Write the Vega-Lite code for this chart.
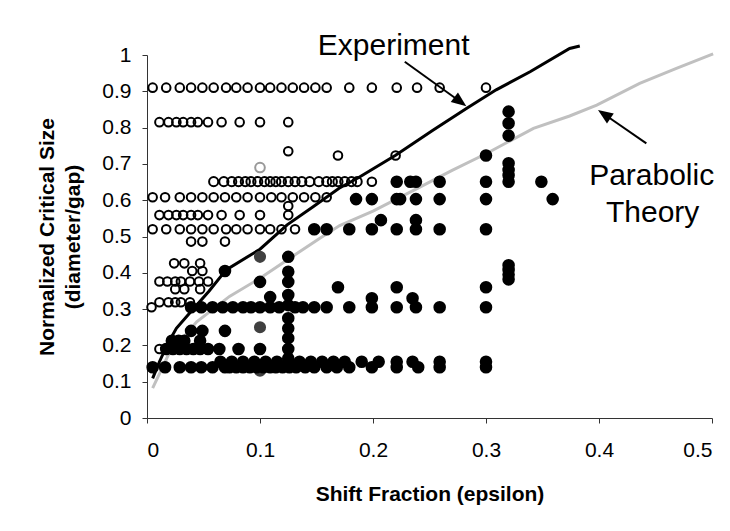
{
  "$schema": "https://vega.github.io/schema/vega-lite/v6.json",
  "autosize": "none",
  "width": 565,
  "height": 363,
  "padding": {"left": 147, "top": 55, "right": 18, "bottom": 113},
  "background": "white",
  "config": {
    "font": "Liberation Sans",
    "view": {"stroke": null},
    "axis": {
      "grid": false,
      "domainColor": "#333",
      "tickColor": "#333",
      "domainWidth": 1,
      "tickWidth": 1,
      "tickSize": 5,
      "labelOverlap": false,
      "labelFont": "Liberation Sans",
      "labelFontSize": 21,
      "labelColor": "#000",
      "titleFont": "Liberation Sans",
      "titleFontSize": 21,
      "titleFontWeight": "bold",
      "titleColor": "#000"
    }
  },
  "datasets": {
    "points": [
      {"eps":0.005,"size":0.91,"kind":"open"},{"eps":0.017,"size":0.91,"kind":"open"},{"eps":0.029,"size":0.91,"kind":"open"},{"eps":0.039,"size":0.91,"kind":"open"},{"eps":0.049,"size":0.91,"kind":"open"},{"eps":0.059,"size":0.91,"kind":"open"},{"eps":0.07,"size":0.91,"kind":"open"},{"eps":0.079,"size":0.91,"kind":"open"},{"eps":0.089,"size":0.91,"kind":"open"},{"eps":0.1,"size":0.91,"kind":"open"},{"eps":0.109,"size":0.91,"kind":"open"},{"eps":0.119,"size":0.91,"kind":"open"},{"eps":0.129,"size":0.91,"kind":"open"},{"eps":0.139,"size":0.91,"kind":"open"},{"eps":0.149,"size":0.91,"kind":"open"},{"eps":0.159,"size":0.91,"kind":"open"},{"eps":0.179,"size":0.91,"kind":"open"},{"eps":0.199,"size":0.91,"kind":"open"},{"eps":0.221,"size":0.91,"kind":"open"},{"eps":0.239,"size":0.91,"kind":"open"},{"eps":0.259,"size":0.91,"kind":"open"},{"eps":0.3,"size":0.91,"kind":"open"},
      {"eps":0.011,"size":0.815,"kind":"open"},{"eps":0.019,"size":0.815,"kind":"open"},{"eps":0.026,"size":0.815,"kind":"open"},{"eps":0.032,"size":0.815,"kind":"open"},{"eps":0.039,"size":0.815,"kind":"open"},{"eps":0.045,"size":0.815,"kind":"open"},{"eps":0.054,"size":0.815,"kind":"open"},{"eps":0.066,"size":0.815,"kind":"open"},{"eps":0.082,"size":0.815,"kind":"open"},{"eps":0.1,"size":0.815,"kind":"open"},{"eps":0.125,"size":0.815,"kind":"open"},
      {"eps":0.125,"size":0.735,"kind":"open"},{"eps":0.169,"size":0.723,"kind":"open"},{"eps":0.22,"size":0.723,"kind":"open"},
      {"eps":0.059,"size":0.651,"kind":"open_big"},{"eps":0.068,"size":0.651,"kind":"open_big"},{"eps":0.075,"size":0.651,"kind":"open_big"},{"eps":0.081,"size":0.651,"kind":"open_big"},{"eps":0.087,"size":0.651,"kind":"open_big"},{"eps":0.092,"size":0.651,"kind":"open_big"},{"eps":0.098,"size":0.651,"kind":"open_big"},{"eps":0.104,"size":0.651,"kind":"open_big"},{"eps":0.109,"size":0.651,"kind":"open_big"},{"eps":0.114,"size":0.651,"kind":"open_big"},{"eps":0.119,"size":0.651,"kind":"open_big"},{"eps":0.125,"size":0.651,"kind":"open_big"},{"eps":0.131,"size":0.651,"kind":"open_big"},{"eps":0.137,"size":0.651,"kind":"open_big"},{"eps":0.144,"size":0.651,"kind":"open_big"},{"eps":0.152,"size":0.651,"kind":"open_big"},{"eps":0.159,"size":0.651,"kind":"open_big"},{"eps":0.164,"size":0.651,"kind":"open_big"},{"eps":0.169,"size":0.651,"kind":"open_big"},{"eps":0.175,"size":0.651,"kind":"open_big"},{"eps":0.181,"size":0.651,"kind":"open_big"},{"eps":0.186,"size":0.651,"kind":"open_big"},{"eps":0.199,"size":0.651,"kind":"open"},
      {"eps":0.005,"size":0.608,"kind":"open"},{"eps":0.016,"size":0.608,"kind":"open"},{"eps":0.029,"size":0.608,"kind":"open"},{"eps":0.039,"size":0.608,"kind":"open"},{"eps":0.049,"size":0.608,"kind":"open"},{"eps":0.059,"size":0.608,"kind":"open"},{"eps":0.069,"size":0.608,"kind":"open"},{"eps":0.079,"size":0.608,"kind":"open"},{"eps":0.089,"size":0.608,"kind":"open"},{"eps":0.1,"size":0.608,"kind":"open"},{"eps":0.11,"size":0.608,"kind":"open"},{"eps":0.119,"size":0.608,"kind":"open"},{"eps":0.129,"size":0.608,"kind":"open"},{"eps":0.139,"size":0.608,"kind":"open"},{"eps":0.149,"size":0.608,"kind":"open"},{"eps":0.159,"size":0.608,"kind":"open"},
      {"eps":0.125,"size":0.584,"kind":"open"},
      {"eps":0.011,"size":0.559,"kind":"open"},{"eps":0.019,"size":0.559,"kind":"open"},{"eps":0.026,"size":0.559,"kind":"open"},{"eps":0.032,"size":0.559,"kind":"open"},{"eps":0.039,"size":0.559,"kind":"open"},{"eps":0.045,"size":0.559,"kind":"open"},{"eps":0.054,"size":0.559,"kind":"open"},{"eps":0.066,"size":0.559,"kind":"open"},{"eps":0.082,"size":0.559,"kind":"open"},{"eps":0.1,"size":0.559,"kind":"open"},{"eps":0.125,"size":0.559,"kind":"open"},
      {"eps":0.005,"size":0.52,"kind":"open"},{"eps":0.017,"size":0.52,"kind":"open"},{"eps":0.029,"size":0.52,"kind":"open"},{"eps":0.039,"size":0.52,"kind":"open"},{"eps":0.049,"size":0.52,"kind":"open"},{"eps":0.059,"size":0.52,"kind":"open"},{"eps":0.07,"size":0.52,"kind":"open"},{"eps":0.079,"size":0.52,"kind":"open"},{"eps":0.089,"size":0.52,"kind":"open"},{"eps":0.1,"size":0.52,"kind":"open"},{"eps":0.109,"size":0.52,"kind":"open"},{"eps":0.119,"size":0.52,"kind":"open"},{"eps":0.131,"size":0.52,"kind":"open"},
      {"eps":0.039,"size":0.486,"kind":"open"},{"eps":0.049,"size":0.486,"kind":"open"},{"eps":0.069,"size":0.486,"kind":"open"},
      {"eps":0.024,"size":0.426,"kind":"open"},{"eps":0.033,"size":0.426,"kind":"open"},{"eps":0.047,"size":0.426,"kind":"open"},
      {"eps":0.04,"size":0.405,"kind":"open"},{"eps":0.049,"size":0.405,"kind":"open"},
      {"eps":0.011,"size":0.376,"kind":"open"},{"eps":0.018,"size":0.376,"kind":"open"},{"eps":0.025,"size":0.376,"kind":"open"},{"eps":0.03,"size":0.376,"kind":"open"},{"eps":0.038,"size":0.376,"kind":"open"},{"eps":0.046,"size":0.376,"kind":"open"},{"eps":0.054,"size":0.376,"kind":"open"},
      {"eps":0.025,"size":0.355,"kind":"open"},{"eps":0.033,"size":0.355,"kind":"open"},{"eps":0.047,"size":0.355,"kind":"open"},
      {"eps":0.011,"size":0.319,"kind":"open"},{"eps":0.019,"size":0.319,"kind":"open"},{"eps":0.025,"size":0.319,"kind":"open"},{"eps":0.03,"size":0.319,"kind":"open"},{"eps":0.038,"size":0.319,"kind":"open"},
      {"eps":0.004,"size":0.305,"kind":"open"},{"eps":0.011,"size":0.19,"kind":"open"},
      {"eps":0.1,"size":0.69,"kind":"gray_open"},
      {"eps":0.1,"size":0.444,"kind":"gray_filled"},{"eps":0.1,"size":0.25,"kind":"gray_filled"},{"eps":0.1,"size":0.13,"kind":"gray_filled"},
      {"eps":0.065,"size":0.155,"kind":"filled"},{"eps":0.075,"size":0.155,"kind":"filled"},{"eps":0.085,"size":0.155,"kind":"filled"},{"eps":0.095,"size":0.155,"kind":"filled"},{"eps":0.105,"size":0.155,"kind":"filled"},{"eps":0.115,"size":0.155,"kind":"filled"},{"eps":0.125,"size":0.155,"kind":"filled"},{"eps":0.135,"size":0.155,"kind":"filled"},{"eps":0.145,"size":0.155,"kind":"filled"},{"eps":0.155,"size":0.155,"kind":"filled"},{"eps":0.165,"size":0.155,"kind":"filled"},{"eps":0.175,"size":0.155,"kind":"filled"},{"eps":0.19,"size":0.155,"kind":"filled"},{"eps":0.205,"size":0.155,"kind":"filled"},{"eps":0.221,"size":0.155,"kind":"filled"},{"eps":0.235,"size":0.155,"kind":"filled"},{"eps":0.259,"size":0.155,"kind":"filled"},{"eps":0.3,"size":0.155,"kind":"filled"},
      {"eps":0.005,"size":0.14,"kind":"filled"},{"eps":0.016,"size":0.14,"kind":"filled"},{"eps":0.029,"size":0.14,"kind":"filled"},{"eps":0.039,"size":0.14,"kind":"filled"},{"eps":0.048,"size":0.14,"kind":"filled"},{"eps":0.058,"size":0.14,"kind":"filled"},{"eps":0.069,"size":0.14,"kind":"filled"},{"eps":0.073,"size":0.14,"kind":"filled"},{"eps":0.079,"size":0.14,"kind":"filled"},{"eps":0.085,"size":0.14,"kind":"filled"},{"eps":0.091,"size":0.14,"kind":"filled"},{"eps":0.097,"size":0.14,"kind":"filled"},{"eps":0.103,"size":0.14,"kind":"filled"},{"eps":0.109,"size":0.14,"kind":"filled"},{"eps":0.114,"size":0.14,"kind":"filled"},{"eps":0.12,"size":0.14,"kind":"filled"},{"eps":0.126,"size":0.14,"kind":"filled"},{"eps":0.132,"size":0.14,"kind":"filled"},{"eps":0.14,"size":0.14,"kind":"filled"},{"eps":0.148,"size":0.14,"kind":"filled"},{"eps":0.159,"size":0.14,"kind":"filled"},{"eps":0.168,"size":0.14,"kind":"filled"},{"eps":0.179,"size":0.14,"kind":"filled"},{"eps":0.199,"size":0.14,"kind":"filled"},{"eps":0.221,"size":0.14,"kind":"filled"},{"eps":0.24,"size":0.14,"kind":"filled"},{"eps":0.259,"size":0.14,"kind":"filled"},{"eps":0.3,"size":0.14,"kind":"filled"},
      {"eps":0.125,"size":0.164,"kind":"filled"},{"eps":0.125,"size":0.19,"kind":"filled"},{"eps":0.125,"size":0.22,"kind":"filled"},{"eps":0.125,"size":0.247,"kind":"filled"},{"eps":0.125,"size":0.275,"kind":"filled"},{"eps":0.125,"size":0.311,"kind":"filled"},{"eps":0.125,"size":0.339,"kind":"filled"},{"eps":0.125,"size":0.375,"kind":"filled"},{"eps":0.125,"size":0.403,"kind":"filled"},{"eps":0.125,"size":0.444,"kind":"filled"},
      {"eps":0.1,"size":0.19,"kind":"filled"},{"eps":0.1,"size":0.375,"kind":"filled"},
      {"eps":0.017,"size":0.19,"kind":"filled"},{"eps":0.023,"size":0.19,"kind":"filled"},{"eps":0.029,"size":0.19,"kind":"filled"},{"eps":0.035,"size":0.19,"kind":"filled"},{"eps":0.041,"size":0.19,"kind":"filled"},{"eps":0.047,"size":0.19,"kind":"filled"},{"eps":0.054,"size":0.19,"kind":"filled"},{"eps":0.064,"size":0.19,"kind":"filled"},{"eps":0.081,"size":0.19,"kind":"filled"},
      {"eps":0.022,"size":0.213,"kind":"filled"},{"eps":0.028,"size":0.213,"kind":"filled"},{"eps":0.033,"size":0.213,"kind":"filled"},{"eps":0.047,"size":0.213,"kind":"filled"},
      {"eps":0.039,"size":0.24,"kind":"filled"},{"eps":0.049,"size":0.24,"kind":"filled"},{"eps":0.069,"size":0.24,"kind":"filled"},
      {"eps":0.069,"size":0.405,"kind":"filled"},{"eps":0.109,"size":0.333,"kind":"filled"},
      {"eps":0.039,"size":0.305,"kind":"filled"},{"eps":0.048,"size":0.305,"kind":"filled"},{"eps":0.058,"size":0.305,"kind":"filled"},{"eps":0.067,"size":0.305,"kind":"filled"},{"eps":0.076,"size":0.305,"kind":"filled"},{"eps":0.085,"size":0.305,"kind":"filled"},{"eps":0.092,"size":0.305,"kind":"filled"},{"eps":0.1,"size":0.305,"kind":"filled"},{"eps":0.109,"size":0.305,"kind":"filled"},{"eps":0.117,"size":0.305,"kind":"filled"},{"eps":0.131,"size":0.305,"kind":"filled"},{"eps":0.138,"size":0.305,"kind":"filled"},{"eps":0.148,"size":0.305,"kind":"filled"},{"eps":0.159,"size":0.305,"kind":"filled"},{"eps":0.179,"size":0.305,"kind":"filled"},{"eps":0.199,"size":0.305,"kind":"filled"},{"eps":0.221,"size":0.305,"kind":"filled"},{"eps":0.238,"size":0.305,"kind":"filled"},{"eps":0.259,"size":0.305,"kind":"filled"},{"eps":0.3,"size":0.305,"kind":"filled"},
      {"eps":0.199,"size":0.33,"kind":"filled"},{"eps":0.235,"size":0.33,"kind":"filled"},
      {"eps":0.169,"size":0.36,"kind":"filled"},{"eps":0.221,"size":0.36,"kind":"filled"},{"eps":0.3,"size":0.36,"kind":"filled"},
      {"eps":0.32,"size":0.382,"kind":"filled"},{"eps":0.32,"size":0.395,"kind":"filled"},{"eps":0.32,"size":0.408,"kind":"filled"},{"eps":0.32,"size":0.421,"kind":"filled"},{"eps":0.32,"size":0.651,"kind":"filled"},{"eps":0.32,"size":0.669,"kind":"filled"},{"eps":0.32,"size":0.683,"kind":"filled"},{"eps":0.32,"size":0.702,"kind":"filled"},{"eps":0.32,"size":0.778,"kind":"filled"},{"eps":0.32,"size":0.812,"kind":"filled"},{"eps":0.32,"size":0.844,"kind":"filled"},
      {"eps":0.148,"size":0.52,"kind":"filled"},{"eps":0.159,"size":0.52,"kind":"filled"},{"eps":0.179,"size":0.52,"kind":"filled"},{"eps":0.199,"size":0.52,"kind":"filled"},{"eps":0.221,"size":0.52,"kind":"filled"},{"eps":0.238,"size":0.52,"kind":"filled"},{"eps":0.259,"size":0.52,"kind":"filled"},{"eps":0.3,"size":0.52,"kind":"filled"},
      {"eps":0.207,"size":0.545,"kind":"filled"},{"eps":0.238,"size":0.545,"kind":"filled"},
      {"eps":0.185,"size":0.603,"kind":"filled"},{"eps":0.199,"size":0.603,"kind":"filled"},{"eps":0.221,"size":0.603,"kind":"filled"},{"eps":0.224,"size":0.603,"kind":"filled"},{"eps":0.238,"size":0.603,"kind":"filled"},{"eps":0.259,"size":0.603,"kind":"filled"},{"eps":0.3,"size":0.603,"kind":"filled"},{"eps":0.359,"size":0.603,"kind":"filled"},
      {"eps":0.221,"size":0.651,"kind":"filled"},{"eps":0.233,"size":0.651,"kind":"filled"},{"eps":0.238,"size":0.651,"kind":"filled"},{"eps":0.259,"size":0.651,"kind":"filled"},{"eps":0.3,"size":0.651,"kind":"filled"},{"eps":0.349,"size":0.651,"kind":"filled"},
      {"eps":0.3,"size":0.723,"kind":"filled"}
    ],
    "curves": [
      {"eps":0.005,"size":0.109,"curve":"Experiment"},{"eps":0.011,"size":0.155,"curve":"Experiment"},{"eps":0.0186,"size":0.206,"curve":"Experiment"},{"eps":0.026,"size":0.247,"curve":"Experiment"},{"eps":0.038,"size":0.29,"curve":"Experiment"},{"eps":0.055,"size":0.35,"curve":"Experiment"},{"eps":0.07,"size":0.408,"curve":"Experiment"},{"eps":0.1,"size":0.465,"curve":"Experiment"},{"eps":0.124,"size":0.532,"curve":"Experiment"},{"eps":0.147,"size":0.582,"curve":"Experiment"},{"eps":0.17,"size":0.633,"curve":"Experiment"},{"eps":0.187,"size":0.662,"curve":"Experiment"},{"eps":0.22,"size":0.724,"curve":"Experiment"},{"eps":0.253,"size":0.793,"curve":"Experiment"},{"eps":0.283,"size":0.853,"curve":"Experiment"},{"eps":0.309,"size":0.904,"curve":"Experiment"},{"eps":0.339,"size":0.954,"curve":"Experiment"},{"eps":0.374,"size":1.018,"curve":"Experiment"},{"eps":0.383,"size":1.025,"curve":"Experiment"},
      {"eps":0.005,"size":0.082,"curve":"Parabolic Theory"},{"eps":0.0186,"size":0.172,"curve":"Parabolic Theory"},{"eps":0.044,"size":0.265,"curve":"Parabolic Theory"},{"eps":0.073,"size":0.335,"curve":"Parabolic Theory"},{"eps":0.1,"size":0.385,"curve":"Parabolic Theory"},{"eps":0.132,"size":0.452,"curve":"Parabolic Theory"},{"eps":0.153,"size":0.495,"curve":"Parabolic Theory"},{"eps":0.1705,"size":0.53,"curve":"Parabolic Theory"},{"eps":0.2,"size":0.57,"curve":"Parabolic Theory"},{"eps":0.2415,"size":0.636,"curve":"Parabolic Theory"},{"eps":0.27,"size":0.682,"curve":"Parabolic Theory"},{"eps":0.3,"size":0.728,"curve":"Parabolic Theory"},{"eps":0.342,"size":0.798,"curve":"Parabolic Theory"},{"eps":0.374,"size":0.832,"curve":"Parabolic Theory"},{"eps":0.398,"size":0.862,"curve":"Parabolic Theory"},{"eps":0.436,"size":0.922,"curve":"Parabolic Theory"},{"eps":0.4685,"size":0.963,"curve":"Parabolic Theory"},{"eps":0.501,"size":1.003,"curve":"Parabolic Theory"}
    ],
    "notes": [
      {"eps":0.2183,"size":1.0,"label":"Experiment"},
      {"eps":0.4466,"size":0.642,"label":"Parabolic"},
      {"eps":0.4475,"size":0.541,"label":"Theory"}
    ],
    "arrows": [
      {"eps":0.2281,"size":0.9815,"eps2":0.2773,"size2":0.8711},
      {"eps":0.4419,"size":0.7567,"eps2":0.4046,"size2":0.8368}
    ]
  },
  "layer": [
    {
      "data": {"name": "curves"},
      "mark": {"type": "line", "strokeWidth": 3, "clip": false},
      "encoding": {
        "x": {"field": "eps", "type": "quantitative", "scale": {"domain": [0, 0.5], "nice": false},
              "axis": {"values": [0, 0.1, 0.2, 0.3, 0.4, 0.5], "format": "~g", "labelOverlap": false, "labelPadding": 16, "title": "Shift Fraction (epsilon)", "titleBaseline": "alphabetic", "titleY": 82}},
        "y": {"field": "size", "type": "quantitative", "scale": {"domain": [0, 1], "nice": false},
              "axis": {"values": [0, 0.1, 0.2, 0.3, 0.4, 0.5, 0.6, 0.7, 0.8, 0.9, 1], "tickCount": 11, "format": "~g", "labelOverlap": false, "labelBound": false, "labelPadding": 11,
                       "title": ["Normalized Critical Size", "(diameter/gap)"], "titleAngle": 270, "titleBaseline": "alphabetic", "titleAlign": "center", "titleX": -94, "titleY": 181.5, "titleLineHeight": 26}},
        "color": {"field": "curve", "type": "nominal", "scale": {"domain": ["Experiment", "Parabolic Theory"], "range": ["#000000", "#c0c0c0"]}, "legend": null},
        "order": {"field": "eps", "type": "quantitative"}
      }
    },
    {
      "data": {"name": "points"},
      "mark": {"type": "point", "shape": "circle", "strokeWidth": 2, "opacity": 1},
      "encoding": {
        "x": {"field": "eps", "type": "quantitative"},
        "y": {"field": "size", "type": "quantitative"},
        "fill": {"field": "kind", "type": "nominal", "scale": {"domain": ["open", "open_big", "gray_open", "gray_filled", "filled"], "range": ["transparent", "transparent", "transparent", "#404040", "#000000"]}, "legend": null},
        "stroke": {"field": "kind", "type": "nominal", "scale": {"domain": ["open", "open_big", "gray_open", "gray_filled", "filled"], "range": ["#000000", "#000000", "#999999", "#404040", "#000000"]}, "legend": null},
        "size": {"field": "kind", "type": "nominal", "scale": {"domain": ["open", "open_big", "gray_open", "gray_filled", "filled"], "range": [74, 112, 74, 108, 108]}, "legend": null}
      }
    },
    {
      "data": {"name": "arrows"},
      "mark": {"type": "rule", "strokeWidth": 2, "color": "#000"},
      "encoding": {
        "x": {"field": "eps", "type": "quantitative"},
        "y": {"field": "size", "type": "quantitative"},
        "x2": {"field": "eps2"},
        "y2": {"field": "size2"}
      }
    },
    {
      "data": {"values": [{"eps": 0.2773, "size": 0.8711}]},
      "mark": {"type": "point", "shape": "M0,-1L0.8,1L-0.8,1Z", "filled": true, "color": "#000", "opacity": 1, "size": 225},
      "encoding": {
        "x": {"field": "eps", "type": "quantitative"},
        "y": {"field": "size", "type": "quantitative"},
        "angle": {"value": 127}
      }
    },
    {
      "data": {"values": [{"eps": 0.4046, "size": 0.8368}]},
      "mark": {"type": "point", "shape": "M0,-1L0.8,1L-0.8,1Z", "filled": true, "color": "#000", "opacity": 1, "size": 225},
      "encoding": {
        "x": {"field": "eps", "type": "quantitative"},
        "y": {"field": "size", "type": "quantitative"},
        "angle": {"value": 304.5}
      }
    },
    {
      "data": {"name": "notes"},
      "mark": {"type": "text", "fontSize": 30, "font": "Liberation Sans", "align": "center", "baseline": "alphabetic", "color": "#000"},
      "encoding": {
        "x": {"field": "eps", "type": "quantitative"},
        "y": {"field": "size", "type": "quantitative"},
        "text": {"field": "label"}
      }
    }
  ]
}
